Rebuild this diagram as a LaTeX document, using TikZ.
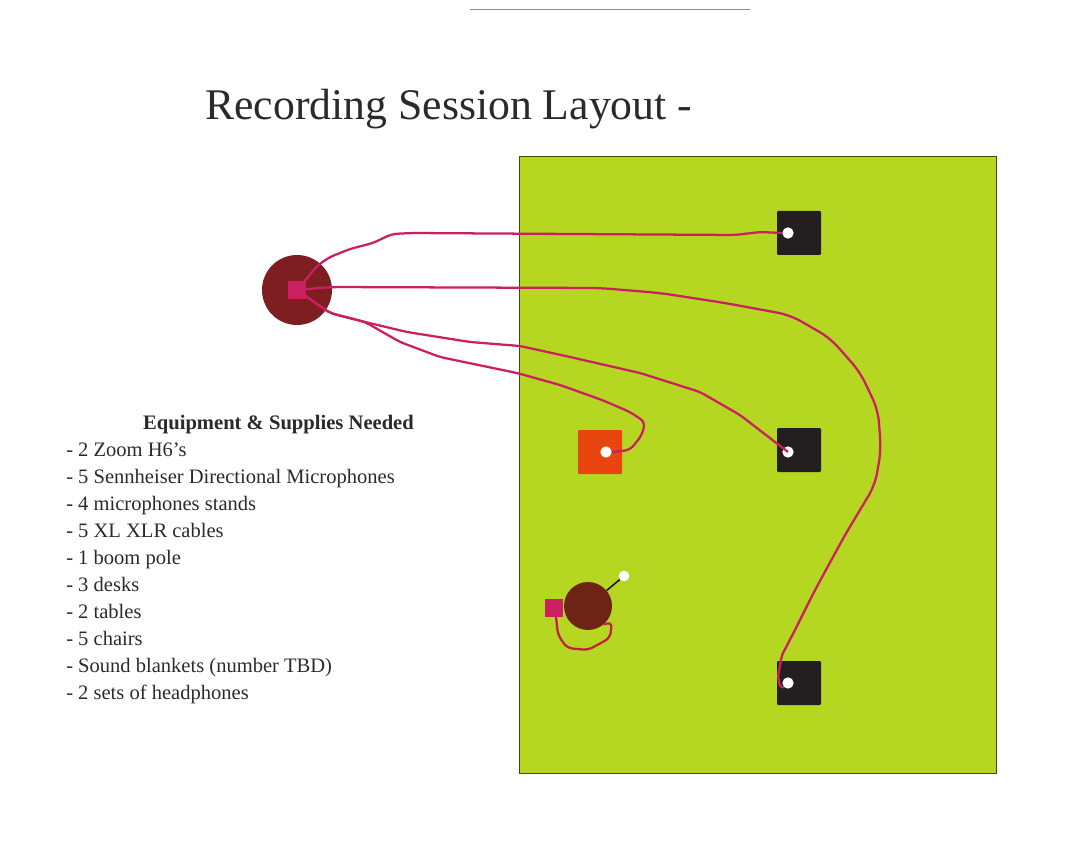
\documentclass[tikz,border=0pt]{standalone}
\usepackage{fontspec}
\setmainfont{Liberation Serif}
\usepackage{amsmath}
\definecolor{fieldgreen}{HTML}{B6D722}
\definecolor{cablepink}{HTML}{CC1F62}
\definecolor{cablered}{HTML}{C2203F}
\definecolor{tableorange}{HTML}{E8450F}
\definecolor{recorder}{HTML}{7E1E20}
\definecolor{seatbrown}{HTML}{6E2415}
\definecolor{deskblack}{HTML}{231F20}
\definecolor{inkgray}{HTML}{2A2A2A}
\begin{document}
\begin{tikzpicture}[x=0.75pt, y=-0.75pt,
        desk/.style={fill=deskblack, rounded corners=0.8pt, minimum size=33pt, inner sep=0pt},
        spot/.style={circle, fill=white, minimum size=8.5pt, inner sep=0pt},
        box/.style={fill=cablepink, minimum size=14pt, inner sep=0pt},
        cable/.style={cablepink, line width=1.7pt, rounded corners=4pt, line join=round}]
            \useasboundingbox (0,0) rectangle (1080,848);
            \draw[black!45, line width=0.5pt] (470,9.5) -- (750,9.5);
            \node[anchor=base west, inner sep=0pt, text=inkgray, font=\fontsize{32.8}{33}\selectfont] (title) at (205,120) {Recording Session Layout -};
            \node[draw=black!65!fieldgreen, fill=fieldgreen, line width=0.7pt, minimum width=357.75pt, minimum height=462.75pt, inner sep=0pt] (field) at (757.5,464.5) {};
            \node[circle, fill=recorder, minimum size=52.5pt, inner sep=0pt] (crew) at (297,290) {};
            \node[box] (mixer) at (297,290) {};
            \node[desk] (deskA) at (799,233) {};
            \node[desk] (deskB) at (799,450) {};
            \node[desk] (deskC) at (799,683) {};
            \node[desk, fill=tableorange] (table) at (600,452) {};
            \node[spot] (spotA) at (788,233) {};
            \node[spot] (spotB) at (788,452) {};
            \node[spot] (spotC) at (788,683) {};
            \node[spot] (spotT) at (606,452) {};
            \node[circle, fill=seatbrown, minimum size=36pt, inner sep=0pt] (seat) at (588,606) {};
            \node[box] (recbox) at (554,608) {};
            \node[spot, minimum size=8pt] (boom) at (624,576) {};
            \draw[black!80!seatbrown, line width=1.1pt] (seat) -- (boom);
            % cables
            \draw[cable] (mixer.center) -- (318,265) -- (330,257) -- (350,249) -- (373,243) -- (392,234) -- (412,233) -- (735,235) -- (760,232) -- (spotA.west);
            \draw[cable, rounded corners=9pt] (mixer.center) -- (330,287) -- (600,288) -- (660,293) -- (725,303) -- (790,315) -- (830,338) -- (860,372) -- (878,410) -- (881,450) -- (875,485) -- (845,535) -- (815,590) -- (795,630) [rounded corners=2pt] -- (782,655) -- (778,676) -- (780,687) -- (spotC.south west);
            \draw[cable] (mixer.center) -- (330,313) -- (365,322) -- (407,332) -- (470,342) -- (520,346) -- (570,357) -- (640,373) -- (700,392) -- (740,415) -- (spotB.center);
            \draw[cable] (mixer.center) -- (330,313) -- (365,322) -- (400,342) -- (440,357) -- (517,373) -- (560,385) -- (602,400) -- (630,412) -- (645,422) -- (642,435) -- (630,450) -- (spotT.east);
            \draw[cable, cablered] (556,617) -- (558,635) -- (567,648) -- (588,650) -- (610,638) -- (612,622) -- (seat.-50);
            \node[text=inkgray, inner sep=0pt, font=\fontsize{15.45}{15}\selectfont\bfseries] (heading) at (278.5,425) {Equipment \& Supplies Needed};
            \node[anchor=north west, align=left, inner sep=0pt, text=inkgray, font=\fontsize{15.4}{20.2}\selectfont] (supplies) at (66,443) {- 2 Zoom H6’s\\
                - 5 Sennheiser Directional Microphones\\
                - 4 microphones stands\\
                - 5 XL XLR cables\\
                - 1 boom pole\\
                - 3 desks\\
                - 2 tables\\
                - 5 chairs\\
                - Sound blankets (number TBD)\\
                - 2 sets of headphones};
\end{tikzpicture}
\end{document}
